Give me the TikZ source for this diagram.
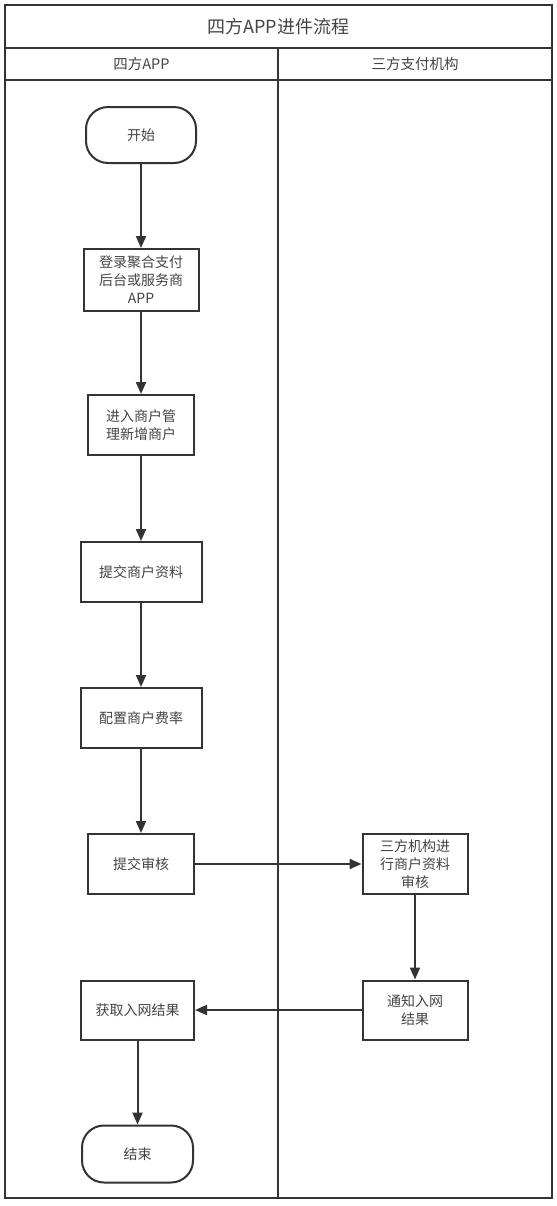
\documentclass[tikz,border=0pt]{standalone}
\usepackage{fontspec}
\setmainfont{Noto Sans CJK SC}
\usetikzlibrary{arrows.meta}
\definecolor{ink}{HTML}{333333}
\definecolor{txt}{HTML}{444444}
\tikzset{
  frame/.style={draw=ink, line width=2bp},
  proc/.style={draw=ink, line width=2bp, fill=white, align=center, inner sep=0pt,
    minimum height=60bp, font=\fontsize{14bp}{18bp}\selectfont, text=txt},
  term/.style={proc, rounded corners=22bp, minimum height=56bp},
  flow/.style={draw=ink, line width=2bp, -{Triangle[length=12bp,width=10bp]}},
  lanehead/.style={font=\fontsize{14.5bp}{16bp}\selectfont, text=txt},
}
\begin{document}
\begin{tikzpicture}[x=1bp,y=-1bp]
\useasboundingbox (0,0) rectangle (557,1206);
% frame
\draw[frame] (5,5) rectangle (552,1198);
\draw[frame] (5,48) -- (552,48);
\draw[frame] (5,80) -- (552,80);
\draw[frame] (278,48) -- (278,1198);
\node[font=\fontsize{18bp}{20bp}\selectfont, text=txt] (title) at (278.5,27) {四方APP进件流程};
\node[lanehead] (laneA) at (141.5,64) {四方APP};
\node[lanehead] (laneB) at (415,64) {三方支付机构};
% nodes
\node[term, minimum width=110bp] (start) at (141,135) {开始};
\node[proc, minimum width=115bp, minimum height=62bp] (login) at (141,280) {登录聚合支付\\后台或服务商\\APP};
\node[proc, minimum width=106bp] (enter) at (141,425) {进入商户管\\理新增商户};
\node[proc, minimum width=121bp] (submitinfo) at (141,572) {提交商户资料};
\node[proc, minimum width=121bp] (rate) at (141,718) {配置商户费率};
\node[proc, minimum width=106bp] (review) at (141,864) {提交审核};
\node[proc, minimum width=105bp] (third) at (415,864) {三方机构进\\行商户资料\\审核};
\node[proc, minimum width=105bp, minimum height=59bp] (notify) at (415,1010) {通知入网\\结果};
\node[proc, minimum width=113bp, minimum height=59bp] (result) at (137.5,1010) {获取入网结果};
\node[term, minimum width=111bp, minimum height=57bp] (finish) at (137.5,1154) {结束};
% connectors
\draw[flow] (start) -- (login);
\draw[flow] (login) -- (enter);
\draw[flow] (enter) -- (submitinfo);
\draw[flow] (submitinfo) -- (rate);
\draw[flow] (rate) -- (review);
\draw[flow] (review) -- (third);
\draw[flow] (third) -- (notify);
\draw[flow] (notify) -- (result);
\draw[flow] (result) -- (finish);
\end{tikzpicture}
\end{document}
